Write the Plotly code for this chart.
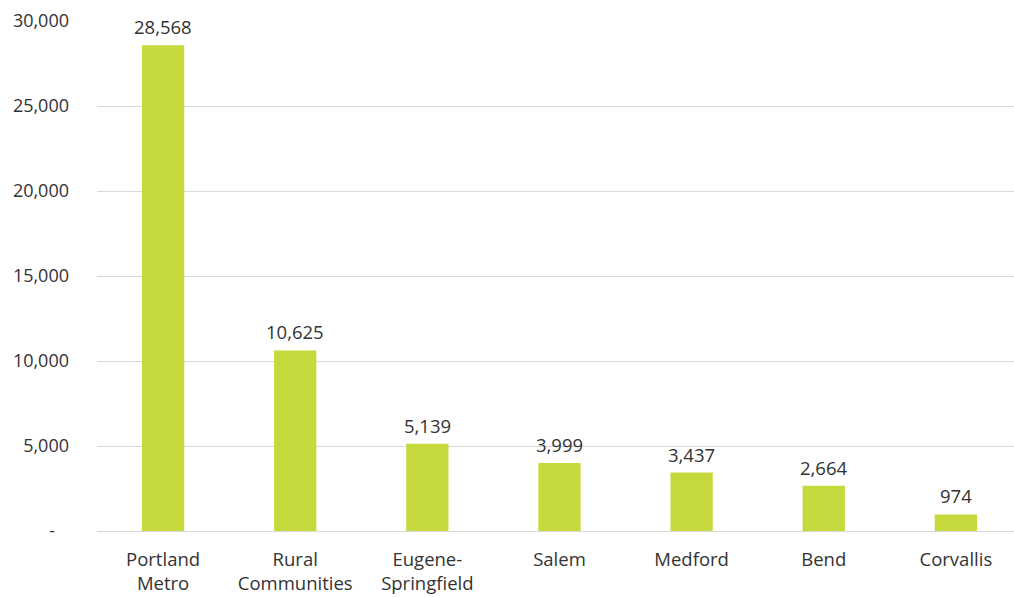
import plotly.graph_objects as go

categories = ["Portland<br>Metro", "Rural<br>Communities", "Eugene-<br>Springfield",
              "Salem", "Medford", "Bend", "Corvallis"]
values = [28568, 10625, 5139, 3999, 3437, 2664, 974]
tick_vals = [0, 5000, 10000, 15000, 20000, 25000, 30000]
tick_text = ["-\u00a0\u00a0\u00a0", "5,000", "10,000", "15,000", "20,000", "25,000", "30,000"]

FONT = "Open Sans, Noto Sans, sans-serif"
TXT = "#333333"

fig = go.Figure()
fig.add_trace(go.Bar(x=categories, y=values, marker_color="#C5D93D",
                     marker_line_width=0, width=0.32))

for c, v in zip(categories, values):
    fig.add_annotation(x=c, y=v, text=f"{v:,}", showarrow=False,
                       yanchor="bottom", yshift=4,
                       font=dict(family=FONT, size=18.5, color=TXT))

fig.update_layout(
    width=1014, height=597,
    margin=dict(l=97, r=0, t=21, b=66, autoexpand=False),
    plot_bgcolor="white", paper_bgcolor="white",
    showlegend=False,
)
fig.update_xaxes(range=[-0.5, 6.44], showgrid=False, showline=False,
                 ticks="", automargin=False,
                 tickfont=dict(family=FONT, size=18.5, color=TXT),
                 ticklabelstandoff=15)
fig.update_yaxes(range=[0, 30000], tickvals=tick_vals, ticktext=tick_text,
                 showgrid=True, gridcolor="#D9D9D9", gridwidth=1,
                 zeroline=True, zerolinecolor="#D9D9D9", zerolinewidth=1,
                 showline=False, ticks="", automargin=False,
                 tickfont=dict(family=FONT, size=18, color=TXT),
                 ticklabelstandoff=27)

fig.write_html("out.html", config={"displayModeBar": False},
               post_script="document.body.style.margin='0';document.body.style.overflow='hidden';")
